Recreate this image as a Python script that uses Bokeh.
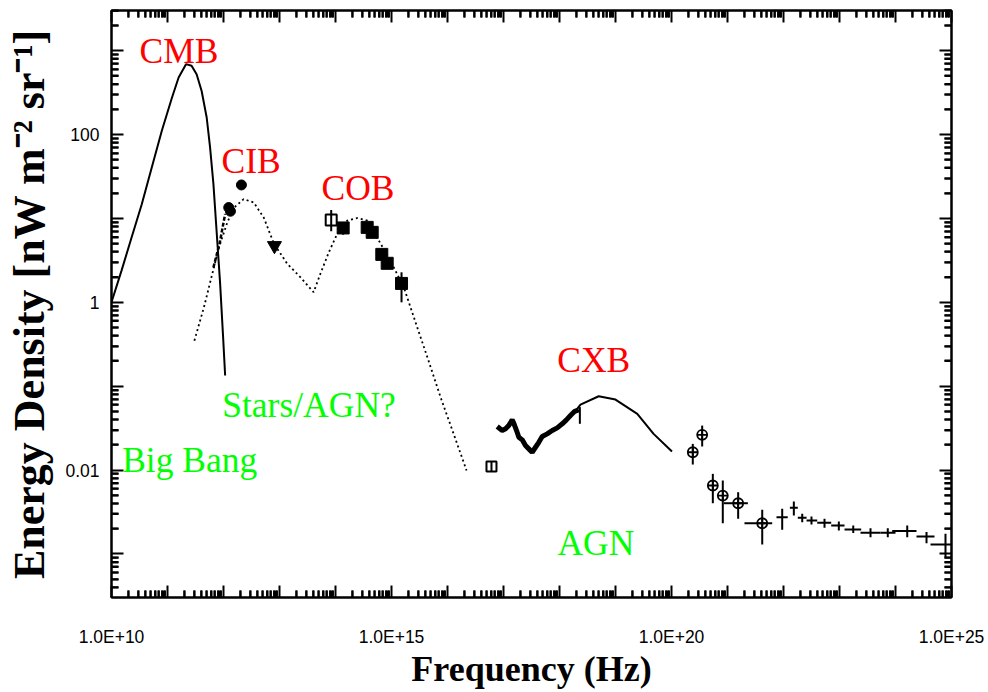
import math
from bokeh.plotting import figure
from bokeh.models import Range1d, FixedTicker, LogAxis, Label
from bokeh.embed import file_html
from bokeh.resources import INLINE

# ---------------- data (frequency in Hz, energy density in nW m^-2 sr^-1) ----------------
cmb_nu = [1.0e10, 1.51e10, 2.29e10, 3.47e10, 5.25e10, 7.94e10, 1.20e11, 1.58e11, 2.14e11,
          2.69e11, 3.31e11, 4.07e11, 5.01e11, 5.75e11, 6.61e11, 7.59e11, 8.71e11, 9.77e11, 1.07e12]
cmb_e = [1.0, 2.39, 5.96, 14.8, 40.7, 112.0, 275.0, 479.0, 692.0,
         661.0, 525.0, 331.0, 160.0, 70.8, 25.7, 6.53, 1.66, 0.42, 0.134]

model_nu = [3.02e11, 4.47e11, 6.31e11, 8.32e11, 1.17e12, 1.55e12, 2.29e12, 3.47e12, 5.25e12,
            7.94e12, 1.38e13, 2.37e13, 4.07e13, 5.37e13, 7.59e13, 1.07e14, 1.62e14, 2.45e14,
            3.72e14, 5.50e14, 9.55e14, 1.66e15, 2.51e15, 4.37e15, 7.50e15, 1.29e16, 2.19e16]
model_e = [0.349, 0.871, 2.19, 4.53, 8.99, 13.5, 17.0, 15.5, 10.2,
           5.01, 2.87, 1.99, 1.32, 2.19, 3.94, 6.53, 9.42, 10.1,
           9.42, 5.96, 3.14, 1.51, 0.662, 0.221, 0.0741, 0.0269, 0.00986]

firas_nu = [6.6e11, 8.5e11, 1.07e12]
firas_e = [2.6, 5.0, 11.3]

cib_nu = [1.24e12, 1.33e12, 2.09e12]
cib_e = [13.5, 12.2, 25.1]

cib_limit_nu = [8.13e12]
cib_limit_e = [4.74]

cob_open_nu = [8.38e13]
cob_open_e = [9.6]
cob_open_lo = [7.02]
cob_open_hi = [12.6]

cob_nu = [1.37e14, 3.68e14, 4.52e14, 6.71e14, 8.38e14, 1.51e15]
cob_e = [7.71, 7.83, 6.83, 3.73, 2.92, 1.68]
cob_lo = [6.41, 7.1, 6.2, 3.3, 2.6, 1.0]
cob_hi = [8.6, 8.6, 7.5, 4.2, 3.2, 2.28]

euv_nu = [6.1e16]
euv_e = [0.0110]
euv_lo = [0.0097]
euv_hi = [0.0125]

cxb_nu = [7.72e16, 9.48e16, 1.09e17, 1.24e17, 1.43e17, 1.53e17, 1.71e17, 1.88e17, 2.16e17,
          2.47e17, 2.95e17, 3.25e17, 3.73e17, 4.27e17, 4.91e17, 6.03e17, 7.41e17, 9.10e17,
          1.12e18, 1.33e18, 1.57e18, 1.87e18, 2.21e18]
cxb_e = [0.0330, 0.0296, 0.0310, 0.0339, 0.0396, 0.0361, 0.0296, 0.0246, 0.0229,
         0.0196, 0.0174, 0.0163, 0.0187, 0.0214, 0.0251, 0.0270, 0.0296, 0.0318,
         0.0356, 0.0396, 0.0447, 0.0502, 0.0522]
cxb_end_nu = [2.31e18]
cxb_end_lo = [0.0356]
cxb_end_hi = [0.0563]

cxb_model_nu = [2.07e18, 2.37e18, 5.01e18, 1.0e19, 2.45e19, 4.79e19, 1.02e20]
cxb_model_e = [0.0536, 0.0604, 0.0759, 0.0692, 0.0468, 0.0270, 0.0166]

comptel_nu = [2.40e20, 3.53e20, 5.47e20, 8.24e20, 1.55e21, 4.17e21]
comptel_e = [0.0163, 0.0263, 0.00654, 0.00496, 0.00402, 0.00232]
comptel_lo = [0.01163, 0.0191, 0.00402, 0.00232, 0.00262, 0.00129]
comptel_hi = [0.0205, 0.0339, 0.00901, 0.0075, 0.00544, 0.00336]
comptel_nu_lo = [2.40e20, 3.53e20, 5.47e20, 8.24e20, 8.59e20, 2.01e21]
comptel_nu_hi = [2.40e20, 3.53e20, 5.47e20, 8.24e20, 2.31e21, 6.28e21]

egret_nu = [9.48e21, 1.53e22, 2.16e22, 3.16e22, 5.40e22, 9.73e22, 1.76e23, 3.58e23, 7.28e23,
            1.62e24, 3.58e24, 7.81e24]
egret_e = [0.00274, 0.00354, 0.00269, 0.00250, 0.00235, 0.00218, 0.00195, 0.00179, 0.00179,
           0.00187, 0.00161, 0.00129]
egret_lo = [0.00194, 0.00287, 0.00239, 0.00224, 0.00205, 0.00190, 0.00177, 0.00158, 0.00158,
            0.00158, 0.00134, 0.000914]
egret_hi = [0.00345, 0.00421, 0.00301, 0.00279, 0.00262, 0.00243, 0.00218, 0.00202, 0.00202,
            0.00218, 0.00182, 0.00174]
egret_nu_lo = [7.50e21, 1.30e22, 1.80e22, 2.58e22, 4.00e22, 7.11e22, 1.23e23, 2.37e23, 5.40e23,
               8.73e23, 2.37e24, 4.22e24]
egret_nu_hi = [1.19e22, 1.80e22, 2.58e22, 4.00e22, 7.11e22, 1.23e23, 2.44e23, 5.40e23, 1.0e24,
               2.37e24, 4.97e24, 1.0e25]

x_tick_values = [1e10, 1e11, 1e12, 1e13, 1e14, 1e15, 1e16, 1e17, 1e18, 1e19, 1e20,
                 1e21, 1e22, 1e23, 1e24, 1e25]
x_tick_labels = ["1.0E+10", "", "", "", "", "1.0E+15", "", "", "", "", "1.0E+20",
                 "", "", "", "", "1.0E+25"]
y_tick_values = [1e-3, 1e-2, 1e-1, 1.0, 10.0, 100.0, 1000.0]
y_tick_labels = ["", "0.01", "", "1", "", "100", ""]

region_names = ["CMB", "CIB", "COB", "CXB"]
region_x = [3.16e10, 9.2e11, 5.62e13, 9.1e17]
region_y = [710.0, 34.7, 16.6, 0.1466]
source_names = ["Stars/AGN?", "Big Bang", "AGN"]
source_x = [9.5e11, 1.55e10, 9.2e17]
source_y = [0.0426, 0.00941, 9.57e-4]

# ---------------- figure ----------------
X0, X1 = 1e10, 1e25
Y0, Y1 = 3.02e-4, 3.02e3
x_minor = [m * t for t in x_tick_values[:-1] for m in range(2, 10)]
y_minor = [m * t for t in y_tick_values[:-1] for m in range(2, 10)] + \
          [m * 1e-4 for m in range(4, 10)] + [2000.0, 3000.0]

p = figure(width=988, height=692, x_axis_type="log", y_axis_type="log",
           x_range=Range1d(X0, X1), y_range=Range1d(Y0, Y1),
           output_backend="svg", toolbar_location=None,
           min_border_left=111, min_border_right=37, min_border_top=10, min_border_bottom=95)
p.xgrid.visible = False
p.ygrid.visible = False
p.outline_line_color = "black"
p.outline_line_width = 2
p.background_fill_color = "white"
p.border_fill_color = "white"

xt = FixedTicker(ticks=x_tick_values, minor_ticks=x_minor)
yt = FixedTicker(ticks=y_tick_values, minor_ticks=y_minor)


def style_axis(ax, ticker, overrides, show):
    ax.ticker = ticker
    ax.major_label_overrides = overrides
    ax.axis_line_width = 2
    ax.major_tick_in = 12
    ax.major_tick_out = 0
    ax.minor_tick_in = 7
    ax.minor_tick_out = 0
    ax.major_tick_line_width = 2
    ax.minor_tick_line_width = 2
    ax.major_tick_line_color = "black"
    ax.minor_tick_line_color = "black"
    ax.major_label_text_font = "Liberation Sans"
    ax.major_label_text_color = "black"
    if show:
        ax.major_label_text_font_size = "17.5px"
    else:
        ax.major_label_text_font_size = "0px"
        ax.major_label_standoff = 0


x_over = dict(zip(x_tick_values, x_tick_labels))
y_over = dict(zip(y_tick_values, y_tick_labels))
x_blank = {v: "" for v in x_tick_values}
y_blank = {v: "" for v in y_tick_values}

xa = p.xaxis[0]
style_axis(xa, xt, x_over, True)
xa.major_label_standoff = 29
xa.axis_label = "Frequency (Hz)"
xa.axis_label_text_font = "Liberation Serif"
xa.axis_label_text_font_style = "bold"
xa.axis_label_text_font_size = "36px"
xa.axis_label_standoff = -1
xa.axis_label_text_color = "black"

ya = p.yaxis[0]
style_axis(ya, yt, y_over, True)
ya.major_label_standoff = 12
ya.axis_label = "Energy Density [nW m\u207b\u00b2 sr\u207b\u00b9]"
ya.axis_label_text_font = "Liberation Serif"
ya.axis_label_text_font_style = "bold"
ya.axis_label_text_font_size = "44px"
ya.axis_label_standoff = 8
ya.axis_label_text_color = "black"

top = LogAxis()
style_axis(top, xt, x_blank, False)
p.add_layout(top, "above")
right = LogAxis()
style_axis(right, yt, y_blank, False)
p.add_layout(right, "right")

# short inward ticks at 2..9 x 10^n on all four frame edges: dash markers centred on the
# edge; the frame clip keeps only their inner half
p.scatter(x_minor, [Y0] * len(x_minor), marker="dash", size=14, angle=math.pi / 2,
          line_color="black", line_width=2)
p.scatter(x_minor, [Y1] * len(x_minor), marker="dash", size=14, angle=math.pi / 2,
          line_color="black", line_width=2)
p.scatter([X0] * len(y_minor), y_minor, marker="dash", size=14, angle=0,
          line_color="black", line_width=2)
p.scatter([X1] * len(y_minor), y_minor, marker="dash", size=14, angle=0,
          line_color="black", line_width=2)

# ---------------- glyphs ----------------
p.line(cmb_nu, cmb_e, line_color="black", line_width=2)
p.line(model_nu, model_e, line_color="black", line_width=1.8, line_dash="2 3")
p.line(firas_nu, firas_e, line_color="black", line_width=2.5, line_dash="4 2")

p.scatter(cib_nu, cib_e, marker="circle", size=10, fill_color="black", line_color="black")
p.scatter(cib_limit_nu, cib_limit_e, marker="inverted_triangle", size=14,
          fill_color="black", line_color="black")

p.segment(cob_open_nu, cob_open_lo, cob_open_nu, cob_open_hi, line_color="black", line_width=2)
p.scatter(cob_open_nu, cob_open_e, marker="square", size=11, fill_color=None,
          line_color="black", line_width=2)
p.segment(cob_nu, cob_lo, cob_nu, cob_hi, line_color="black", line_width=2)
p.scatter(cob_nu, cob_e, marker="square", size=12, fill_color="black", line_color="black")

p.segment(euv_nu, euv_lo, euv_nu, euv_hi, line_color="black", line_width=2)
p.scatter(euv_nu, euv_e, marker="square", size=10, fill_color=None,
          line_color="black", line_width=2)

p.line(cxb_nu, cxb_e, line_color="black", line_width=5)
p.segment(cxb_end_nu, cxb_end_lo, cxb_end_nu, cxb_end_hi, line_color="black", line_width=2)
p.line(cxb_model_nu, cxb_model_e, line_color="black", line_width=2)

p.segment(comptel_nu, comptel_lo, comptel_nu, comptel_hi, line_color="black", line_width=2)
p.segment(comptel_nu_lo, comptel_e, comptel_nu_hi, comptel_e, line_color="black", line_width=2)
p.scatter(comptel_nu, comptel_e, marker="circle_cross", size=10, fill_color=None,
          line_color="black", line_width=1.8)

p.segment(egret_nu, egret_lo, egret_nu, egret_hi, line_color="black", line_width=2)
p.segment(egret_nu_lo, egret_e, egret_nu_hi, egret_e, line_color="black", line_width=2)

for name, xx, yy in zip(region_names, region_x, region_y):
    p.add_layout(Label(x=xx, y=yy, y_offset=12, text=name, text_font="Liberation Serif",
                       text_font_size="35.5px", text_color="#ff0000",
                       text_align="left", text_baseline="alphabetic"))
for name, xx, yy in zip(source_names, source_x, source_y):
    p.add_layout(Label(x=xx, y=yy, y_offset=12, text=name, text_font="Liberation Serif",
                       text_font_size="35.5px", text_color="#00ff00",
                       text_align="left", text_baseline="alphabetic"))

open("out.html", "w").write(file_html(p, INLINE))
